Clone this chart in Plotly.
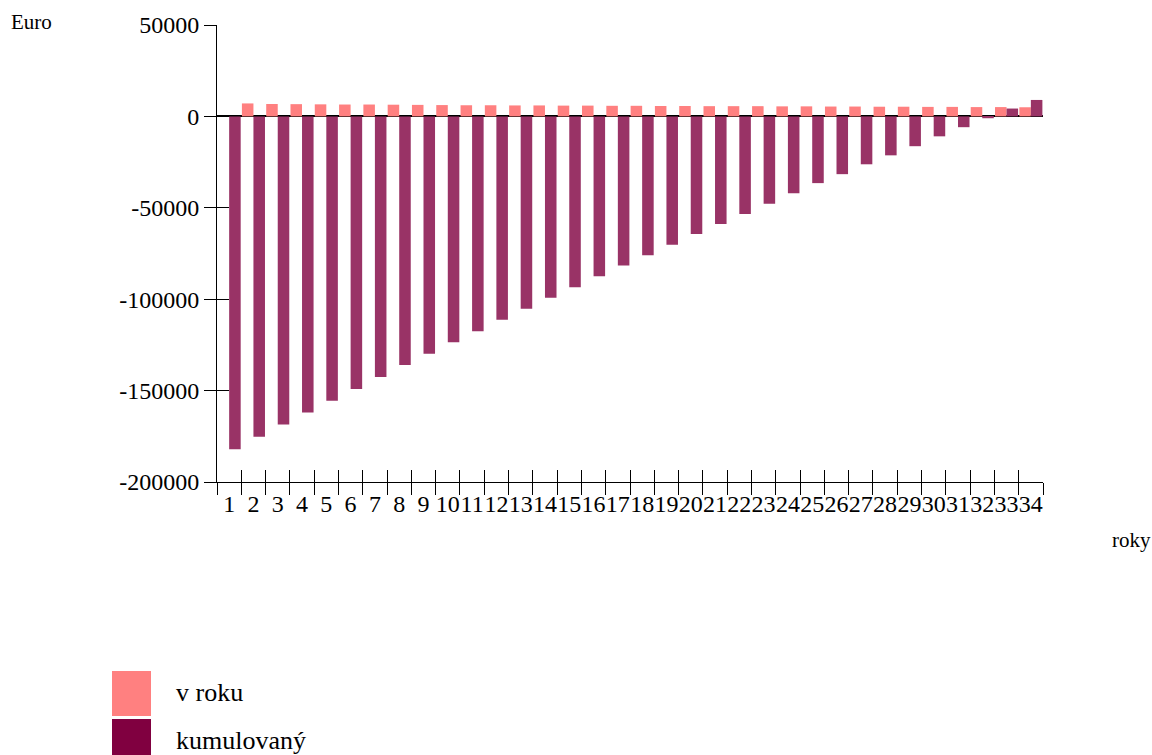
import plotly.graph_objects as go

roky = ["1", "2", "3", "4", "5", "6", "7", "8", "9", "10", "11", "12", "13", "14", "15", "16", "17",
        "18", "19", "20", "21", "22", "23", "24", "25", "26", "27", "28", "29", "30", "31", "32", "33", "34"]

v_roku = [None, 7100, 6800, 6700, 6600, 6500, 6500, 6400, 6300, 6200, 6100, 6100, 6000, 6000, 5900, 5900, 5800,
          5800, 5700, 5700, 5600, 5600, 5600, 5500, 5500, 5400, 5400, 5300, 5300, 5200, 5200, 5100, 5100, 5000]

kumulovany = [-182100, -175300, -168600, -162000, -155500, -149100, -142500, -136000, -129800, -123600, -117600,
              -111200, -105200, -99200, -93500, -87500, -81500, -76000, -70200, -64400, -58900, -53400, -47800,
              -42000, -36500, -31600, -26200, -21300, -16300, -10900, -5900, -1000, 4300, 9000]

y_tickvals = [50000, 0, -50000, -100000, -150000, -200000]
y_ticktext = ["50000", "0", "-50000", "-100000", "-150000", "-200000"]

series_names = ["v roku", "kumulovaný"]
series_colors = ["#FF8080", "#993366"]
legend_colors = ["#FF8080", "#800040"]

FONT = "Liberation Serif"
W, H = 1152, 755
L, R, T, B = 217, 109, 25, 273
PW, PH = W - L - R, H - T - B


def px(x):
    return (x - L) / PW


def py(y):
    return (H - B - y) / PH


fig = go.Figure()
fig.add_trace(go.Bar(x=roky, y=v_roku, name=series_names[0], marker=dict(color=series_colors[0], line=dict(width=0)),
                     showlegend=False))
fig.add_trace(go.Bar(x=roky, y=kumulovany, name=series_names[1],
                     marker=dict(color=series_colors[1], line=dict(width=0)), showlegend=False))
# helper trace for the overlay axes (crossing ticks)
fig.add_trace(go.Scatter(x=roky, y=[0] * len(roky), xaxis="x2", yaxis="y2", mode="lines",
                         line=dict(width=0, color="rgba(0,0,0,0)"), showlegend=False, hoverinfo="skip"))

axis_common = dict(showgrid=False, tickcolor="black", ticklen=12, tickwidth=1)

fig.update_layout(
    width=W, height=H, autosize=False,
    margin=dict(l=L, r=R, t=T, b=B, pad=0),
    paper_bgcolor="white", plot_bgcolor="white",
    barmode="group", bargap=0.05, bargroupgap=0,
    font=dict(family=FONT, color="black", size=24),
    xaxis=dict(type="category", categoryorder="array", categoryarray=roky, range=[-0.5, len(roky) - 0.5],
               tickson="boundaries", ticks="outside", showline=True, linecolor="black", linewidth=1,
               tickmode="linear", tick0=0, dtick=1, tickangle=0,
               zeroline=False, tickfont=dict(family=FONT, size=24, color="black"), anchor="y", **axis_common),
    xaxis2=dict(type="category", categoryorder="array", categoryarray=roky, range=[-0.5, len(roky) - 0.5],
                tickson="boundaries", ticks="inside", showline=False, showticklabels=False, zeroline=False,
                tickmode="linear", tick0=0, dtick=1,
                overlaying="x", anchor="y2", **axis_common),
    yaxis=dict(range=[-200000, 50000], tickvals=y_tickvals, ticktext=y_ticktext, ticks="outside",
               showline=True, linecolor="black", linewidth=1, zeroline=True, zerolinecolor="black",
               zerolinewidth=1.5, tickfont=dict(family=FONT, size=24, color="black"), anchor="x", **axis_common),
    yaxis2=dict(range=[-200000, 50000], tickvals=y_tickvals, ticks="inside", showline=False,
                showticklabels=False, zeroline=False, overlaying="y", anchor="x2", side="left", **axis_common),
)

annotations = [
    dict(text="Euro", x=px(9), y=py(22), xanchor="left", yanchor="middle", font=dict(size=21)),
    dict(text="roky", x=px(1110), y=py(540), xanchor="left", yanchor="middle", font=dict(size=21)),
    dict(text=series_names[0], x=px(174), y=py(692), xanchor="left", yanchor="middle", font=dict(size=26)),
    dict(text=series_names[1], x=px(174), y=py(740), xanchor="left", yanchor="middle", font=dict(size=26)),
]
for a in annotations:
    a.update(xref="paper", yref="paper", showarrow=False)
    a["font"].update(family=FONT, color="black")
fig.update_layout(annotations=annotations)

shapes = [
    dict(type="rect", x0=px(112), x1=px(151), y0=py(716), y1=py(671), fillcolor=legend_colors[0]),
    dict(type="rect", x0=px(112), x1=px(151), y0=py(764), y1=py(719), fillcolor=legend_colors[1]),
]
for s in shapes:
    s.update(xref="paper", yref="paper", line=dict(width=0), layer="above")
fig.update_layout(shapes=shapes)

fig.write_html("out.html", config={"displayModeBar": False},
               post_script="document.body.style.margin='0';document.body.style.overflow='hidden';")
